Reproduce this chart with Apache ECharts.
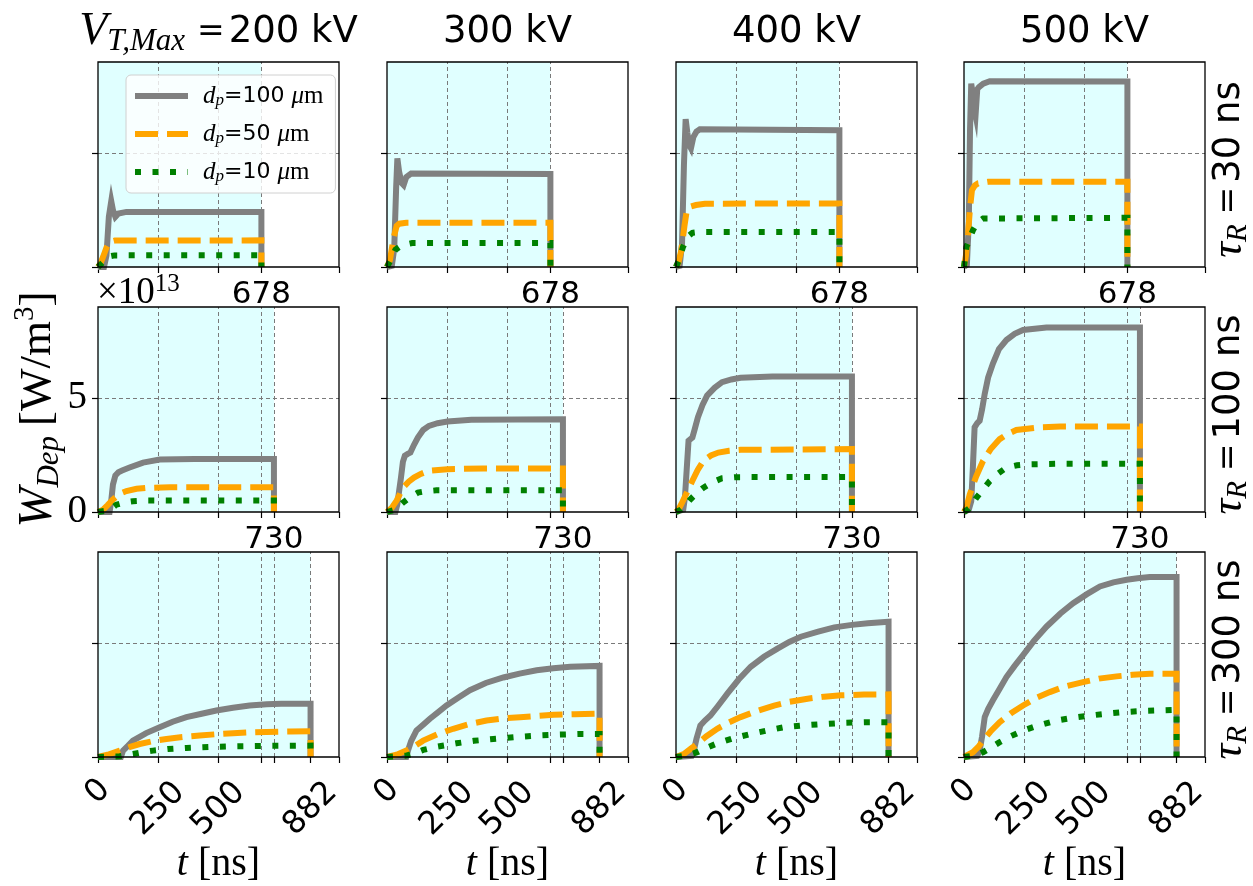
<!DOCTYPE html>
<html><head><meta charset="utf-8">
<script src="https://cdn.jsdelivr.net/npm/echarts@6/dist/echarts.min.js"></script>
<style>html,body{margin:0;padding:0;background:#fff}#c{width:1253px;height:886px}</style>
</head><body><div id="c"></div>
<script>
// ---------------- data (values in units of 1e13 W/m^3, time in ns) ----------------
const voltages = ['200 kV', '300 kV', '400 kV', '500 kV'];
const riseTimes = ['30 ns', '100 ns', '300 ns'];
const endTimes = [678, 730, 882];
const seriesNames = ['d_p=100', 'd_p=50', 'd_p=10'];
const xTicksByRow = [[0, 250, 500, 678, 1000], [0, 250, 500, 678, 730, 1000], [0, 250, 500, 678, 730, 882, 1000]];
const xLabelsByRow = [[678], [730], [0, 250, 500, 882]];
const xGridByRow = [[250, 500, 678], [250, 500, 678, 730], [250, 500, 678, 730, 882]];
const yTicks = [0, 5];

// tau_R = 30 ns
const r30_v200_d100 = [[0,0],[25,0],[35,0.5],[45,2.2],[55,2.89],[62,2.5],[72,2.2],[85,2.35],[118,2.42],[400,2.42],[678,2.41]];
const r30_v200_d50  = [[0,0],[10,0.15],[21,0.44],[35,0.85],[48,1.1],[70,1.16],[678,1.17]];
const r30_v200_d10  = [[0,0],[7,0.07],[20,0.2],[35,0.38],[50,0.47],[69,0.51],[678,0.52]];
const r30_v300_d100 = [[0,0],[20,0.05],[30,0.8],[38,3.5],[43,4.77],[50,4.2],[60,3.7],[69,3.6],[80,3.95],[100,4.1],[678,4.08]];
const r30_v300_d50  = [[0,0],[12,0.3],[28,1.3],[40,1.8],[51,1.9],[80,1.94],[678,1.94]];
const r30_v300_d10  = [[0,0],[15,0.3],[35,0.76],[60,0.95],[105,1.05],[678,1.05]];
const r30_v400_d100 = [[0,0],[15,0.05],[25,1.0],[33,4.5],[40,6.49],[47,5.9],[55,5.35],[62,5.21],[72,5.7],[85,5.95],[99,6.05],[678,6.0]];
const r30_v400_d50  = [[0,0],[10,0.2],[22,0.73],[35,1.8],[45,2.5],[60,2.65],[83,2.72],[120,2.78],[678,2.79]];
const r30_v400_d10  = [[0,0],[12,0.3],[29,0.88],[50,1.35],[68,1.5],[100,1.54],[678,1.54]];
const r30_v500_d100 = [[0,0],[12,0.1],[20,2.0],[25,6.0],[30,8.05],[36,7.6],[42,7.0],[48,6.67],[55,7.8],[62,7.9],[80,8.05],[107,8.16],[678,8.14]];
const r30_v500_d50  = [[0,0],[8,0.5],[17,1.47],[25,2.6],[33,3.37],[45,3.58],[58,3.67],[100,3.74],[678,3.74]];
const r30_v500_d10  = [[0,0],[10,0.88],[25,1.3],[37,1.61],[55,1.95],[79,2.13],[678,2.16]];
// tau_R = 100 ns
const r100_v200_d100 = [[0,0],[48,0],[55,0.5],[62,1.2],[72,1.6],[85,1.75],[100,1.82],[131,1.95],[187,2.17],[256,2.3],[400,2.33],[730,2.33]];
const r100_v200_d50  = [[0,0],[21,0.1],[40,0.3],[62,0.55],[90,0.8],[118,0.92],[160,1.02],[200,1.06],[300,1.09],[730,1.09]];
const r100_v200_d10  = [[0,0],[30,0.05],[55,0.15],[76,0.32],[110,0.42],[145,0.47],[200,0.5],[730,0.5]];
const r100_v300_d100 = [[0,0],[35,0],[43,0.34],[50,0.9],[58,1.51],[66,2.2],[74,2.47],[86,2.55],[97,2.61],[112,2.95],[128,3.27],[150,3.6],[174,3.78],[210,3.9],[251,3.97],[350,4.05],[730,4.07]];
const r100_v300_d50  = [[0,0],[20,0.19],[40,0.5],[66,1.07],[90,1.33],[112,1.51],[140,1.67],[174,1.81],[251,1.88],[400,1.91],[730,1.91]];
const r100_v300_d10  = [[0,0],[25,0.08],[45,0.2],[66,0.41],[95,0.65],[128,0.85],[160,0.91],[205,0.95],[730,0.96]];
const r100_v400_d100 = [[0,0],[30,0.1],[37,0.63],[44,1.8],[52,3.13],[60,3.2],[68,3.27],[78,3.65],[91,4.16],[110,4.7],[129,5.11],[160,5.45],[191,5.7],[230,5.82],[268,5.89],[400,5.95],[730,5.95]];
const r100_v400_d50  = [[0,0],[10,0.1],[22,0.34],[45,0.85],[68,1.37],[90,1.85],[114,2.25],[145,2.48],[176,2.61],[220,2.69],[268,2.73],[730,2.76]];
const r100_v400_d10  = [[0,0],[20,0.1],[40,0.3],[60,0.56],[85,0.82],[114,1.07],[150,1.3],[191,1.48],[250,1.53],[730,1.54]];
const r100_v500_d100 = [[0,0],[20,0.1],[30,0.47],[37,2.0],[44,3.72],[55,3.9],[65,4.01],[75,4.5],[86,5.19],[100,5.9],[120,6.52],[145,7.15],[176,7.55],[210,7.82],[245,7.99],[342,8.1],[730,8.1]];
const r100_v500_d50  = [[0,0],[10,0.2],[24,0.77],[50,1.55],[79,2.24],[110,2.75],[148,3.2],[180,3.42],[217,3.6],[314,3.72],[400,3.75],[730,3.75]];
const r100_v500_d10  = [[0,0],[20,0.15],[35,0.35],[51,0.62],[80,1.0],[107,1.36],[140,1.68],[176,1.95],[220,2.05],[259,2.09],[400,2.12],[730,2.12]];
// tau_R = 300 ns
const r300_v200_d100 = [[0,0],[95,0],[104,0.28],[125,0.5],[145,0.72],[200,1.05],[256,1.31],[310,1.55],[367,1.75],[430,1.9],[491,2.04],[560,2.16],[629,2.26],[700,2.32],[760,2.34],[882,2.34]];
const r300_v200_d50  = [[0,0],[40,0.1],[90,0.28],[130,0.43],[173,0.57],[230,0.7],[284,0.79],[350,0.88],[422,0.94],[490,1.0],[560,1.04],[630,1.08],[698,1.1],[800,1.12],[882,1.13]];
const r300_v200_d10  = [[0,0],[90,0.03],[145,0.13],[190,0.22],[228,0.28],[290,0.35],[367,0.4],[460,0.44],[560,0.47],[700,0.49],[882,0.5]];
const r300_v300_d100 = [[0,0],[80,0],[87,0.28],[100,0.7],[122,1.16],[150,1.42],[178,1.68],[210,1.95],[247,2.26],[300,2.63],[344,2.93],[410,3.25],[483,3.49],[550,3.66],[621,3.81],[690,3.9],[760,3.96],[882,4.0]];
const r300_v300_d50  = [[0,0],[40,0.1],[80,0.28],[110,0.45],[150,0.72],[210,1.0],[275,1.24],[340,1.44],[413,1.6],[480,1.69],[552,1.75],[620,1.8],[691,1.85],[780,1.88],[882,1.9]];
const r300_v300_d10  = [[0,0],[80,0.06],[110,0.15],[150,0.31],[210,0.46],[288,0.6],[360,0.71],[441,0.79],[530,0.87],[621,0.94],[710,0.98],[802,1.01],[882,1.01]];
const r300_v400_d100 = [[0,0],[65,0.05],[74,0.28],[85,0.8],[101,1.38],[120,1.6],[143,1.82],[175,2.25],[213,2.78],[260,3.4],[310,3.96],[365,4.4],[421,4.76],[470,5.05],[518,5.28],[590,5.5],[657,5.69],[730,5.8],[796,5.87],[882,5.94]];
const r300_v400_d50  = [[0,0],[32,0.13],[60,0.35],[88,0.57],[125,0.9],[171,1.24],[220,1.52],[268,1.75],[330,2.0],[407,2.26],[470,2.42],[546,2.56],[615,2.65],[685,2.71],[780,2.74],[882,2.75]];
const r300_v400_d10  = [[0,0],[50,0.08],[88,0.21],[130,0.42],[171,0.6],[240,0.83],[310,1.01],[380,1.17],[449,1.31],[520,1.38],[588,1.43],[700,1.5],[796,1.53],[882,1.53]];
const r300_v500_d100 = [[0,0],[55,0.05],[65,0.28],[75,0.9],[86,1.75],[100,2.1],[120,2.49],[148,3.0],[176,3.51],[210,4.0],[245,4.47],[290,5.1],[342,5.72],[400,6.3],[453,6.75],[510,7.15],[564,7.49],[620,7.67],[675,7.78],[720,7.85],[771,7.9],[882,7.9]];
const r300_v500_d50  = [[0,0],[37,0.21],[60,0.45],[79,0.72],[110,1.12],[148,1.53],[195,1.92],[245,2.26],[300,2.6],[356,2.85],[420,3.1],[494,3.29],[560,3.44],[633,3.54],[700,3.61],[771,3.66],[882,3.66]];
const r300_v500_d10  = [[0,0],[50,0.08],[79,0.21],[110,0.4],[148,0.65],[195,0.92],[245,1.16],[300,1.36],[384,1.6],[450,1.72],[522,1.82],[590,1.9],[661,1.97],[760,2.03],[882,2.07]];

const panels = [
  [[r30_v200_d100, r30_v200_d50, r30_v200_d10], [r30_v300_d100, r30_v300_d50, r30_v300_d10], [r30_v400_d100, r30_v400_d50, r30_v400_d10], [r30_v500_d100, r30_v500_d50, r30_v500_d10]],
  [[r100_v200_d100, r100_v200_d50, r100_v200_d10], [r100_v300_d100, r100_v300_d50, r100_v300_d10], [r100_v400_d100, r100_v400_d50, r100_v400_d10], [r100_v500_d100, r100_v500_d50, r100_v500_d10]],
  [[r300_v200_d100, r300_v200_d50, r300_v200_d10], [r300_v300_d100, r300_v300_d50, r300_v300_d10], [r300_v400_d100, r300_v400_d50, r300_v400_d10], [r300_v500_d100, r300_v500_d50, r300_v500_d10]]
];

// ---------------- layout / style ----------------
const SERIF = 'Liberation Serif';
const SANS = 'DejaVu Sans';
const colLeft = [98, 387, 676, 964];
const gridW = 241;
const rowTop = [62, 307, 552];
const gridH = 205;
const lineStyles = [
  { color: '#808080', width: 6, type: 'solid' },
  { color: '#FFA500', width: 6, type: [23, 9] },
  { color: '#008000', width: 6, type: [6, 11.5] }
];

const grids = [], xAxes = [], yAxes = [], series = [];
for (let r = 0; r < 3; r++) {
  for (let c = 0; c < 4; c++) {
    const k = r * 4 + c;
    grids.push({ left: colLeft[c], top: rowTop[r], width: gridW, height: gridH, show: true,
      borderColor: '#000', borderWidth: 1.3, backgroundColor: 'rgba(0,0,0,0)', z: 10 });
    const isBottom = r === 2;
    xAxes.push({
      gridIndex: k, type: 'value', min: 0, max: 1000,
      axisLine: { show: false }, splitLine: { show: false },
      axisTick: { show: true, customValues: xTicksByRow[r], length: 6, lineStyle: { color: '#000', width: 1.2 } },
      axisLabel: isBottom ? {
        show: true, customValues: xLabelsByRow[r], rotate: 45, align: 'center', verticalAlign: 'middle',
        margin: 52, color: '#000', fontFamily: SANS, fontSize: 32,
        formatter: v => (v === 0 ? '{z|0}' : '{a|' + v + '}'),
        rich: { a: { fontFamily: SANS, fontSize: 32, color: '#000' },
                z: { fontFamily: SANS, fontSize: 32, color: '#000', padding: [0, 0, 24, 24] } }
      } : {
        show: true, customValues: xLabelsByRow[r], margin: 12, color: '#000', fontFamily: SANS, fontSize: 31
      },
      name: isBottom ? '{i|t}{sp| }{r|[ns]}' : '',
      nameLocation: 'middle', nameGap: 80,
      nameTextStyle: { rich: { i: { fontFamily: SERIF, fontStyle: 'italic', fontSize: 40, color: '#000' },
                               sp: { fontFamily: SERIF, fontSize: 40, color: '#000' },
                               r: { fontFamily: SERIF, fontSize: 40, color: '#000' } } }
    });
    yAxes.push({
      gridIndex: k, type: 'value', min: 0, max: 9,
      axisLine: { show: false }, splitLine: { show: false },
      axisTick: { show: true, customValues: yTicks, length: 6, lineStyle: { color: '#000', width: 1.2 } },
      axisLabel: { show: k === 4, customValues: yTicks, margin: 11, color: '#000', fontFamily: SERIF, fontSize: 39 }
    });
    const gridLineData = xGridByRow[r].map(v => ({ xAxis: v })).concat(yTicks.filter(v => v > 0).map(v => ({ yAxis: v })));
    series.push({
      type: 'line', name: 'bg', xAxisIndex: k, yAxisIndex: k, data: [], z: 1, silent: true,
      markArea: { silent: true, itemStyle: { color: '#E0FFFF' }, data: [[{ xAxis: 0 }, { xAxis: endTimes[r] }]] },
      markLine: { silent: true, z: 2, symbol: ['none', 'none'], label: { show: false },
        lineStyle: { type: [4, 3], color: '#7a7a7a', width: 1 }, data: gridLineData }
    });
    for (let s = 0; s < 3; s++) {
      const pts = panels[r][c][s].concat([[endTimes[r], 0]]);
      series.push({
        type: 'line', name: seriesNames[s], xAxisIndex: k, yAxisIndex: k, data: pts,
        symbol: 'none', showSymbol: false, z: 3 + s,
        itemStyle: { color: lineStyles[s].color, opacity: 0 },
        lineStyle: Object.assign({ cap: 'butt', join: 'miter' }, lineStyles[s])
      });
    }
  }
}

const legendRich = {
  d: { fontFamily: SERIF, fontStyle: 'italic', fontSize: 25, color: '#000', padding: [0, 0, 0, 10] },
  p: { fontFamily: SERIF, fontStyle: 'italic', fontSize: 17, color: '#000', verticalAlign: 'bottom' },
  n: { fontFamily: SANS, fontSize: 22, color: '#000' },
  mu: { fontFamily: SERIF, fontStyle: 'italic', fontSize: 25, color: '#000' },
  m: { fontFamily: SERIF, fontSize: 25, color: '#000' }
};

const graphics = [];
// column titles
const titleRich = {
  v: { fontFamily: SERIF, fontStyle: 'italic', fontSize: 46, fill: '#000', lineHeight: 50 },
  s: { fontFamily: SERIF, fontStyle: 'italic', fontSize: 31, fill: '#000', verticalAlign: 'bottom', lineHeight: 30 },
  e: { fontFamily: 'DejaVu Serif', fontSize: 33, fill: '#000', padding: [0, 4, 0, 12] },
  n: { fontFamily: SANS, fontSize: 37, fill: '#000' }
};
for (let c = 0; c < 4; c++) {
  const txt = c === 0 ? '{v|V}{s|T,Max}{e|=}{n|' + voltages[c] + '}' : '{n|' + voltages[c] + '}';
  graphics.push({ type: 'text', x: colLeft[c] + gridW / 2, y: 32,
    style: { text: txt, rich: titleRich, align: 'center', verticalAlign: 'middle', fill: '#000' } });
}
// row labels (right side)
const rowRich = {
  t: { fontFamily: SERIF, fontStyle: 'italic', fontSize: 44, fill: '#000', lineHeight: 48 },
  s: { fontFamily: SERIF, fontStyle: 'italic', fontSize: 29, fill: '#000', verticalAlign: 'bottom', lineHeight: 28 },
  e: { fontFamily: 'DejaVu Serif', fontSize: 33, fill: '#000', padding: [0, 4, 0, 10] },
  n: { fontFamily: SANS, fontSize: 37, fill: '#000' }
};
for (let r = 0; r < 3; r++) {
  graphics.push({ type: 'text', x: 1229, y: rowTop[r] + gridH / 2 + 5, rotation: Math.PI / 2,
    style: { text: '{t|τ}{s|R}{e|=}{n|' + riseTimes[r] + '}', rich: rowRich, align: 'center', verticalAlign: 'middle' } });
}
// y-axis label
graphics.push({ type: 'text', x: 38, y: rowTop[1] + gridH / 2, rotation: Math.PI / 2,
  style: { text: '{w|W}{s|Dep}{sp| }{u|[W/m}{p|3}{u|]}', align: 'center', verticalAlign: 'middle',
    rich: {
      w: { fontFamily: SERIF, fontStyle: 'italic', fontSize: 48, fill: '#000', lineHeight: 54 },
      s: { fontFamily: SERIF, fontStyle: 'italic', fontSize: 31, fill: '#000', verticalAlign: 'bottom', lineHeight: 30 },
      sp: { fontFamily: SERIF, fontSize: 40, fill: '#000' },
      u: { fontFamily: SERIF, fontSize: 45, fill: '#000' },
      p: { fontFamily: SERIF, fontSize: 29, fill: '#000', verticalAlign: 'top', lineHeight: 30 }
    } } });
// exponent label
graphics.push({ type: 'text', x: 97, y: 293,
  style: { text: '{a|×10}{b|13}', align: 'left', verticalAlign: 'middle',
    rich: { a: { fontFamily: SERIF, fontSize: 37, fill: '#000', lineHeight: 42 },
            b: { fontFamily: SERIF, fontSize: 25, fill: '#000', verticalAlign: 'top', lineHeight: 24 } } } });

const option = {
  animation: false,
  backgroundColor: '#fff',
  grid: grids, xAxis: xAxes, yAxis: yAxes, series: series,
  legend: {
    data: seriesNames, left: 126, top: 75, orient: 'vertical',
    backgroundColor: 'rgba(255,255,255,0.8)', borderColor: '#d0d0d0', borderWidth: 1, borderRadius: 5,
    padding: [8, 12, 8, 6], itemGap: 12, itemWidth: 53, itemHeight: 14,
    itemStyle: { opacity: 0 },
    lineStyle: { width: 6 }, selectedMode: false, z: 20,
    formatter: name => '{d|d}{p|p}{n|=' + name.split('=')[1] + ' }{mu|μ}{m|m}',
    textStyle: { rich: legendRich, lineHeight: 26 }
  },
  graphic: graphics
};
const chart = echarts.init(document.getElementById('c'));
chart.setOption(option);
</script></body></html>
